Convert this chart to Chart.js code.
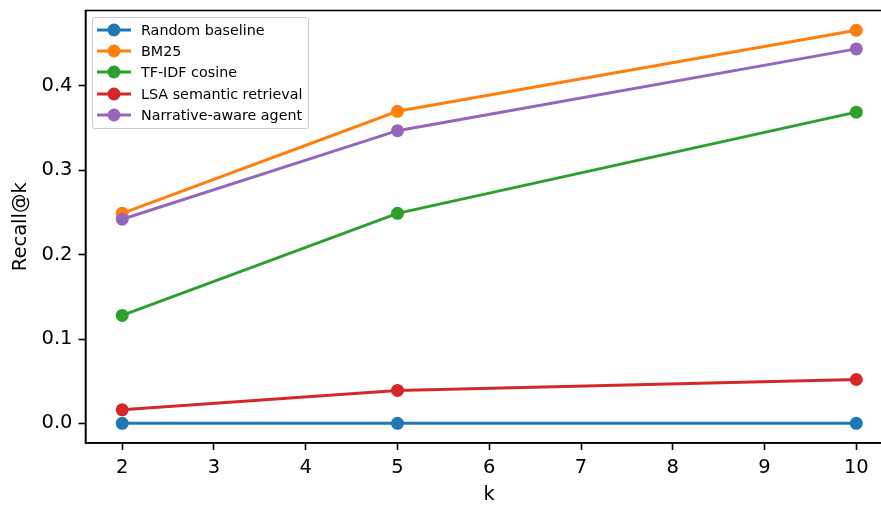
<!DOCTYPE html>
<html>
<head>
<meta charset="utf-8">
<script src="https://cdn.jsdelivr.net/npm/chart.js@4.4.1/dist/chart.umd.min.js"></script>
<style>
    html, body { margin: 0; padding: 0; background: #fff; overflow: hidden; }
    #wrap { position: relative; width: 900px; height: 507px; }
    #legend {
        position: absolute; left: 92px; top: 17px; box-sizing: border-box;
        width: 217px; height: 112px; padding: 1px 0 0 4px;
        border: 1px solid #cccccc; border-radius: 3px;
        background: rgba(255, 255, 255, 0.8);
        font-family: "DejaVu Sans", sans-serif; font-size: 14.3px; color: #000;
    }
    #legend .row { height: 21.3px; display: flex; align-items: center; white-space: nowrap; }
    #legend svg { margin-right: 10px; flex: none; }
</style>
</head>
<body>
<div id="wrap">
    <canvas id="recallChart" width="900" height="507"></canvas>
    <div id="legend"></div>
</div>
<script>
// recall@k per method
const kValues = [2, 5, 10];
const seriesNames = ['Random baseline', 'BM25', 'TF-IDF cosine', 'LSA semantic retrieval', 'Narrative-aware agent'];
const randomBaseline = [0.0, 0.0, 0.0];
const bm25 = [0.249, 0.370, 0.466];
const tfidfCosine = [0.128, 0.249, 0.369];
const lsaRetrieval = [0.016, 0.039, 0.052];
const narrativeAgent = [0.242, 0.347, 0.444];
const xTicks = [2, 3, 4, 5, 6, 7, 8, 9, 10];
const yTicks = [0.0, 0.1, 0.2, 0.3, 0.4];

const colors = ['#1f77b4', '#ff7f0e', '#2ca02c', '#d62728', '#9467bd'];
const allSeries = [randomBaseline, bm25, tfidfCosine, lsaRetrieval, narrativeAgent];

document.addEventListener('DOMContentLoaded', () => {
    const canvas = document.getElementById('recallChart');
    const font = { family: '"DejaVu Sans", sans-serif', size: 19.5 };

    const datasets = allSeries.map((values, i) => ({
        label: seriesNames[i],
        data: kValues.map((k, j) => ({ x: k, y: values[j] })),
        borderColor: colors[i],
        backgroundColor: colors[i],
        borderWidth: 3,
        pointRadius: 6.5,
        pointBorderWidth: 0,
        pointBackgroundColor: colors[i],
        tension: 0,
        order: allSeries.length - 1 - i,
    }));

    // full frame round the plot, like matplotlib spines
    const framePlugin = {
        id: 'frame',
        afterDraw(chart) {
            const { ctx, chartArea } = chart;
            ctx.save();
            ctx.strokeStyle = '#000';
            ctx.lineWidth = 1.6;
            ctx.strokeRect(chartArea.left, chartArea.top, chartArea.right - chartArea.left, chartArea.bottom - chartArea.top);
            ctx.restore();
        }
    };

    const chart = new Chart(canvas, {
        type: 'line',
        data: { datasets: datasets },
        options: {
            responsive: false,
            animation: false,
            layout: { padding: { top: 10.5, right: 7, left: 0, bottom: 0 } },
            plugins: {
                legend: { display: false },
                tooltip: { enabled: false },
            },
            scales: {
                x: {
                    type: 'linear',
                    min: 1.6,
                    max: 10.4,
                    afterBuildTicks: (scale) => { scale.ticks = xTicks.map(v => ({ value: v })); },
                    afterFit: (scale) => { scale.height = 64; },
                    ticks: { color: '#000', font: font, padding: 6, maxRotation: 0, callback: (v) => String(v) },
                    grid: { drawOnChartArea: false, tickLength: 7, tickWidth: 1.6, tickColor: '#000' },
                    border: { color: '#000', width: 1.6 },
                    title: { display: true, text: 'k', color: '#000', font: font, padding: { top: 2, bottom: 0 } },
                },
                y: {
                    type: 'linear',
                    min: -0.0233,
                    max: 0.4895,
                    afterBuildTicks: (scale) => { scale.ticks = yTicks.map(v => ({ value: v })); },
                    afterFit: (scale) => {
                        scale.width = 85.5;
                        scale.paddingTop = 0;
                        scale.paddingBottom = 0;
                    },
                    ticks: { color: '#000', font: font, padding: 6, callback: (v) => v.toFixed(1) },
                    grid: { drawOnChartArea: false, tickLength: 7, tickWidth: 1.6, tickColor: '#000' },
                    border: { color: '#000', width: 1.6 },
                    title: { display: true, text: 'Recall@k', color: '#000', font: font, padding: { top: 9, bottom: 4 } },
                }
            }
        },
        plugins: [framePlugin]
    });

    const legend = document.getElementById('legend');
    chart.data.datasets.forEach((ds) => {
        const row = document.createElement('div');
        row.className = 'row';
        row.innerHTML = '<svg width="34" height="14"><line x1="0" y1="7" x2="34" y2="7" stroke="' + ds.borderColor +
            '" stroke-width="3"/><circle cx="17" cy="7" r="6.5" fill="' + ds.borderColor + '"/></svg>';
        const label = document.createElement('span');
        label.textContent = ds.label;
        row.appendChild(label);
        legend.appendChild(row);
    });
});
</script>
</body>
</html>
